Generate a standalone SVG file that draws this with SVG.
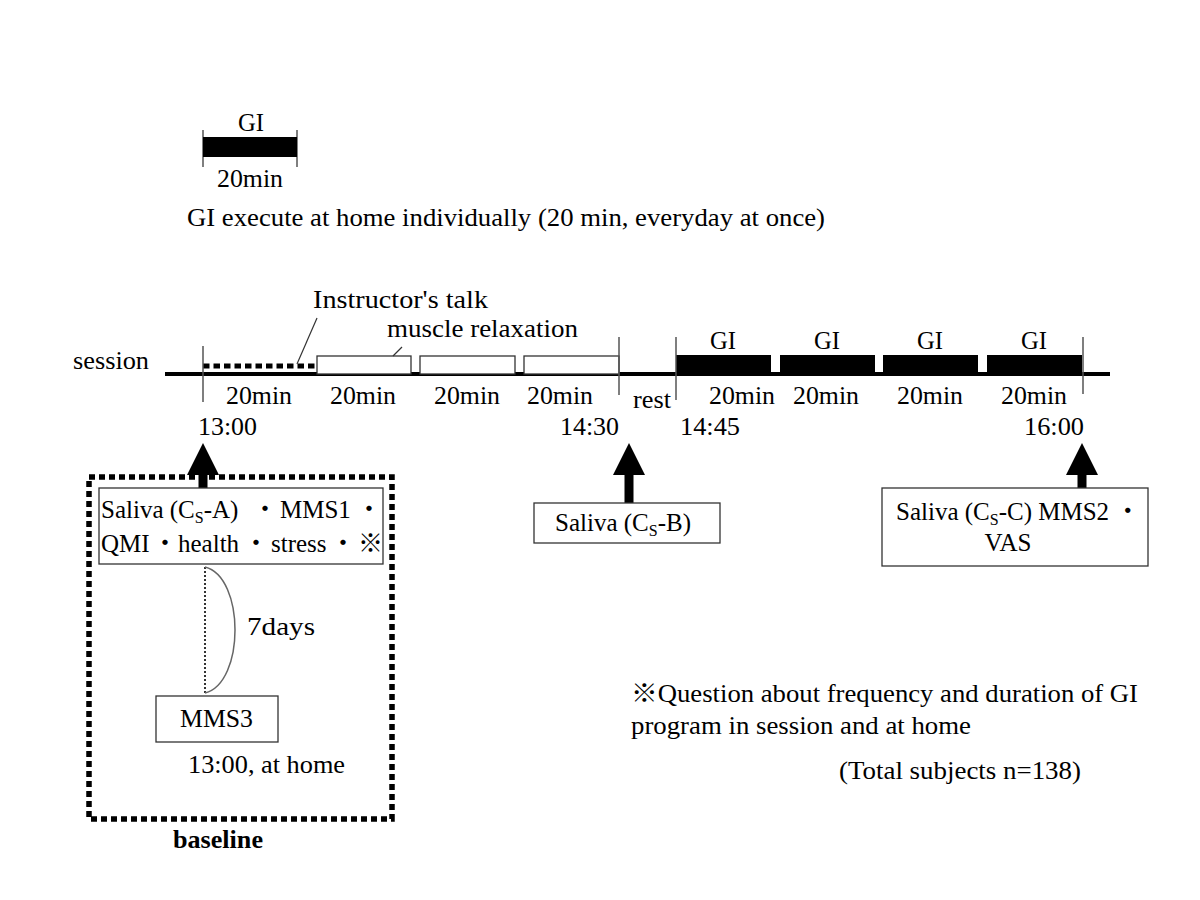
<svg xmlns="http://www.w3.org/2000/svg" width="1200" height="900" viewBox="0 0 1200 900">
<style>
text{font-family:"Liberation Serif","Noto Sans CJK JP",serif;fill:#000;font-size:25px}
.c{text-anchor:middle}
.tick{stroke:#555;stroke-width:1.5}
.box{fill:#fff;stroke:#333;stroke-width:1.3}
.gi{fill:#000}
.sub{font-size:16px}
.jp{font-family:"Noto Sans CJK JP",sans-serif}
</style>
<rect width="1200" height="900" fill="#fff"/>

<g id="legend">
<line class="tick" x1="203" y1="130" x2="203" y2="167"/>
<line class="tick" x1="297" y1="130" x2="297" y2="167"/>
<rect class="gi" x="203" y="137" width="94" height="20"/>
<text class="c" x="251" y="131" textLength="26" lengthAdjust="spacingAndGlyphs">GI</text>
<text class="c" x="250" y="187" textLength="66" lengthAdjust="spacingAndGlyphs">20min</text>
<text x="187" y="226" textLength="638" lengthAdjust="spacingAndGlyphs">GI execute at home individually (20 min, everyday at once)</text>
</g>

<g id="timeline">
<text x="73" y="369" textLength="76" lengthAdjust="spacingAndGlyphs">session</text>
<line x1="165" y1="374" x2="1110" y2="374" stroke="#000" stroke-width="4"/>
<line x1="203" y1="366" x2="316" y2="366" stroke="#000" stroke-width="5" stroke-dasharray="6.5,4"/>
<rect class="box" x="317" y="356" width="94" height="18"/>
<rect class="box" x="420" y="356" width="95" height="18"/>
<rect class="box" x="524" y="356" width="95" height="18"/>
<rect class="gi" x="676" y="355" width="95" height="19"/>
<rect class="gi" x="780" y="355" width="95" height="19"/>
<rect class="gi" x="883" y="355" width="95" height="19"/>
<rect class="gi" x="987" y="355" width="95" height="19"/>
<line class="tick" x1="203" y1="346" x2="203" y2="402"/>
<line class="tick" x1="619" y1="337" x2="619" y2="395"/>
<line class="tick" x1="676" y1="337" x2="676" y2="400"/>
<line class="tick" x1="1083" y1="337" x2="1083" y2="394"/>
<text x="313" y="308" textLength="175" lengthAdjust="spacingAndGlyphs">Instructor's talk</text>
<text x="387" y="337" textLength="191" lengthAdjust="spacingAndGlyphs">muscle relaxation</text>
<text class="c" x="723" y="349" textLength="26" lengthAdjust="spacingAndGlyphs">GI</text>
<text class="c" x="827" y="349" textLength="26" lengthAdjust="spacingAndGlyphs">GI</text>
<text class="c" x="930" y="349" textLength="26" lengthAdjust="spacingAndGlyphs">GI</text>
<text class="c" x="1034" y="349" textLength="26" lengthAdjust="spacingAndGlyphs">GI</text>
<text class="c" x="259" y="404" textLength="66" lengthAdjust="spacingAndGlyphs">20min</text>
<text class="c" x="363" y="404" textLength="66" lengthAdjust="spacingAndGlyphs">20min</text>
<text class="c" x="467" y="404" textLength="66" lengthAdjust="spacingAndGlyphs">20min</text>
<text class="c" x="560" y="404" textLength="66" lengthAdjust="spacingAndGlyphs">20min</text>
<text x="633" y="408" textLength="38" lengthAdjust="spacingAndGlyphs">rest</text>
<text class="c" x="742" y="404" textLength="66" lengthAdjust="spacingAndGlyphs">20min</text>
<text class="c" x="826" y="404" textLength="66" lengthAdjust="spacingAndGlyphs">20min</text>
<text class="c" x="930" y="404" textLength="66" lengthAdjust="spacingAndGlyphs">20min</text>
<text class="c" x="1034" y="404" textLength="66" lengthAdjust="spacingAndGlyphs">20min</text>
<text x="198" y="435" textLength="59" lengthAdjust="spacingAndGlyphs">13:00</text>
<text x="560" y="435" textLength="59" lengthAdjust="spacingAndGlyphs">14:30</text>
<text x="680" y="435" textLength="60" lengthAdjust="spacingAndGlyphs">14:45</text>
<text x="1024" y="435" textLength="60" lengthAdjust="spacingAndGlyphs">16:00</text>
</g>

<g id="connectors" fill="#000" stroke="#000">
<line x1="317" y1="318" x2="297" y2="364" stroke="#333" stroke-width="1.2"/>
<line x1="402" y1="347" x2="393" y2="356" stroke="#333" stroke-width="1.2"/>
<polygon points="203,443 187,475 219,475" stroke="none"/>
<rect x="198.5" y="474" width="9" height="14" stroke="none"/>
<polygon points="629,443 613,475 645,475" stroke="none"/>
<rect x="624.5" y="474" width="9" height="30" stroke="none"/>
<polygon points="1082,443 1066,475 1098,475" stroke="none"/>
<rect x="1077.5" y="474" width="9" height="14" stroke="none"/>
<line x1="205" y1="567" x2="205" y2="693" stroke="#333" stroke-width="2" stroke-dasharray="2,2"/>
<path d="M205,567 C245,577 245,683 205,693" fill="none" stroke="#666" stroke-width="1.5"/>
</g>

<g id="baseline">
<rect x="89" y="477" width="303" height="342" fill="none" stroke="#000" stroke-width="5.5" stroke-dasharray="6,4"/>
<text x="173" y="848" font-weight="bold" textLength="90" lengthAdjust="spacingAndGlyphs">baseline</text>
</g>

<g id="node-salivaA">
<rect class="box" x="99" y="488" width="284" height="76"/>
<text y="518"><tspan x="101">Saliva (C</tspan><tspan class="sub" dy="5">S</tspan><tspan dy="-5">-A)</tspan><tspan class="jp" x="252.5">・</tspan><tspan x="280">MMS1</tspan><tspan class="jp" x="356.5">・</tspan></text>
<text y="552"><tspan x="101">QMI</tspan><tspan class="jp" x="152.5">・</tspan><tspan x="178">health</tspan><tspan class="jp" x="243.5">・</tspan><tspan x="271">stress</tspan><tspan class="jp" x="330.5">・</tspan><tspan class="jp" x="358">※</tspan></text>
</g>

<g id="node-7days">
<text x="247" y="635" textLength="68" lengthAdjust="spacingAndGlyphs">7days</text>
</g>

<g id="node-mms3">
<rect class="box" x="156" y="696" width="122" height="46"/>
<text x="180" y="727" textLength="73" lengthAdjust="spacingAndGlyphs">MMS3</text>
<text x="188" y="773" textLength="157" lengthAdjust="spacingAndGlyphs">13:00, at home</text>
</g>

<g id="node-salivaB">
<rect class="box" x="534" y="503" width="186" height="40"/>
<text y="531"><tspan x="555">Saliva (C</tspan><tspan class="sub" dy="5">S</tspan><tspan dy="-5">-B)</tspan></text>
</g>

<g id="node-salivaC">
<rect class="box" x="882" y="488" width="266" height="78"/>
<text y="520"><tspan x="896">Saliva (C</tspan><tspan class="sub" dy="5">S</tspan><tspan dy="-5">-C) MMS2 </tspan><tspan class="jp">・</tspan></text>
<text class="c" x="1008" y="551">VAS</text>
</g>

<g id="notes">
<text x="631" y="702" textLength="507" lengthAdjust="spacingAndGlyphs">※Question about frequency and duration of GI</text>
<text x="631" y="734" textLength="340" lengthAdjust="spacingAndGlyphs">program in session and at home</text>
<text x="839" y="779" textLength="242" lengthAdjust="spacingAndGlyphs">(Total subjects n=138)</text>
</g>
</svg>
